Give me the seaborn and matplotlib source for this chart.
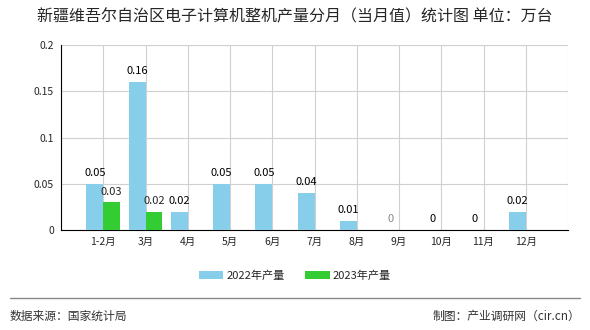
import numpy as np
import pandas as pd
import matplotlib
matplotlib.use("Agg")
import matplotlib.pyplot as plt
import seaborn as sns

categories = ["1-2月", "3月", "4月", "5月", "6月", "7月", "8月", "9月", "10月", "11月", "12月"]
values_2022 = [0.05, 0.16, 0.02, 0.05, 0.05, 0.04, 0.01, 0, 0, 0, 0.02]
values_2023 = [0.03, 0.02, np.nan, np.nan, np.nan, np.nan, np.nan, np.nan, np.nan, np.nan, np.nan]
series_names = ["2022年产量", "2023年产量"]
colors = ["#87CEEB", "#33CC33"]
title = "新疆维吾尔自治区电子计算机整机产量分月（当月值）统计图 单位：万台"

sns.set_theme(style="white")
plt.rcParams['font.family'] = ['Noto Sans CJK SC', 'DejaVu Sans']

df = pd.DataFrame({
    "month": categories * 2,
    "value": values_2022 + values_2023,
    "series": [series_names[0]] * len(categories) + [series_names[1]] * len(categories),
})

fig = plt.figure(figsize=(5.9, 3.3), dpi=100)
ax = fig.add_axes([61/590, 1-230/330, (568-61)/590, (230-45)/330])

sns.barplot(data=df, x="month", y="value", hue="series", palette=colors,
            order=categories, hue_order=series_names, width=0.8, ax=ax,
            saturation=1, legend=False, zorder=3, linewidth=0, edgecolor="none")

ax.set_xlim(-1, len(categories))
ax.set_ylim(0, 0.2)
ax.set_xticks(range(-1, len(categories) + 1))
ax.set_xticklabels([""] + categories + [""], fontsize=7.5)
ax.set_yticks([0, 0.05, 0.1, 0.15, 0.2])
ax.set_yticklabels(["0", "0.05", "0.1", "0.15", "0.2"], fontsize=7.5)
ax.set_xlabel("")
ax.set_ylabel("")
ax.grid(True, color="#d0d0d0", linewidth=0.8, zorder=0)
ax.set_axisbelow(True)
for s in ["top", "right"]:
    ax.spines[s].set_visible(False)
for s in ["left", "bottom"]:
    ax.spines[s].set_color("black")
    ax.spines[s].set_linewidth(0.8)
ax.tick_params(axis="both", direction="out", length=3, width=0.8, color="black", pad=2)

def fmt(v):
    return "0" if v == 0 else f"{v:g}"

for i, (a, b) in enumerate(zip(values_2022, values_2023)):
    ax.annotate(fmt(a), (i - 0.2, a), xytext=(0, 4), textcoords="offset points",
                ha="center", va="bottom", fontsize=8,
                color="#888888" if i == 7 else "black")
    if not np.isnan(b):
        ax.annotate(fmt(b), (i + 0.2, b), xytext=(0, 4), textcoords="offset points",
                    ha="center", va="bottom", fontsize=8)

fig.text(0.5, 1-17/330, title, ha="center", va="center", fontsize=11.5)

# legend
from matplotlib.patches import Patch
handles = [Patch(facecolor=c, edgecolor="none") for c in colors]
fig.legend(handles, series_names, loc="center", bbox_to_anchor=(0.5, 1-276/330),
           ncol=2, frameon=False, fontsize=8, handlelength=2.2, handleheight=0.7,
           columnspacing=1.8, handletextpad=0.3)

fig.add_artist(plt.Line2D([10/590, 580/590], [1-298/330, 1-298/330],
                          color="#888888", linewidth=1))
fig.text(10/590, 1-316/330, "数据来源：国家统计局", ha="left", va="center", fontsize=8.5, color="#333333")
fig.text(580/590, 1-316/330, "制图：产业调研网（cir.cn）", ha="right", va="center", fontsize=8.5, color="#333333")

fig.savefig("out.png", dpi=100)
